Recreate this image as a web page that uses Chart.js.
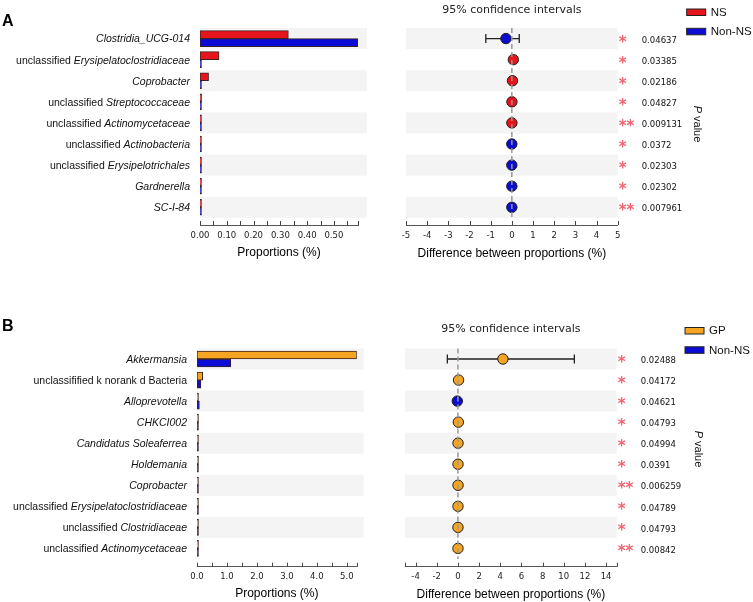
<!DOCTYPE html>
<html>
<head>
<meta charset="utf-8">
<title>Extended error bar plots</title>
<script src="https://cdn.jsdelivr.net/npm/chart.js@4.4.1/dist/chart.umd.min.js"></script>
<style>
  html, body { margin: 0; padding: 0; background: #fff; }
  #wrap { position: relative; width: 753px; height: 602px; overflow: hidden; }
  canvas { position: absolute; }
</style>
</head>
<body>
<div id="wrap">
  <canvas id="barA" width="385" height="265" style="left:0;top:0"></canvas>
  <canvas id="ciA" width="373" height="265" style="left:380px;top:0"></canvas>
  <canvas id="barB" width="385" height="302" style="left:0;top:300px"></canvas>
  <canvas id="ciB" width="373" height="302" style="left:380px;top:300px"></canvas>
</div>
<script>
// --- Panel A data: NS vs Non-NS ---
const namesA = [
  ["", "Clostridia_UCG-014"],
  ["unclassified ", "Erysipelatoclostridiaceae"],
  ["", "Coprobacter"],
  ["unclassified ", "Streptococcaceae"],
  ["unclassified ", "Actinomycetaceae"],
  ["unclassified ", "Actinobacteria"],
  ["unclassified ", "Erysipelotrichales"],
  ["", "Gardnerella"],
  ["", "SC-I-84"]
];
const nsA    = [0.33, 0.071, 0.032, 0.006, 0.002, 0.0006, 0.0002, 0.0001, 0.0002];
const nonNsA = [0.59, 0.001, 0.003, 0.002, 0.0004, 0.002, 0.0015, 0.001, 0.001];
const diffA  = [-0.28, 0.07, 0.03, 0.004, 0.002, -0.0014, -0.0013, -0.0009, -0.0008];
const lowA   = [-1.23, 0.02, 0.005, 0.001, 0.001, -0.0025, -0.0023, -0.0017, -0.0014];
const highA  = [0.35, 0.12, 0.055, 0.007, 0.003, -0.0003, -0.0003, -0.0001, -0.0002];
const pA     = ["0.04637", "0.03385", "0.02186", "0.04827", "0.009131", "0.0372", "0.02303", "0.02302", "0.007961"];
const winA   = ["Non-NS", "NS", "NS", "NS", "NS", "Non-NS", "Non-NS", "Non-NS", "Non-NS"];
const barTicksA  = [0, 0.05, 0.1, 0.15, 0.2, 0.25, 0.3, 0.35, 0.4, 0.45, 0.5, 0.55, 0.59];
const barLabelsA = ["0.00", "", "0.10", "", "0.20", "", "0.30", "", "0.40", "", "0.50", "", ""];
const ciTicksA   = [-5, -4, -3, -2, -1, 0, 1, 2, 3, 4, 5];
const ciLabelsA  = ["-5", "-4", "-3", "-2", "-1", "0", "1", "2", "3", "4", "5"];

// --- Panel B data: GP vs Non-NS ---
const namesB = [
  ["", "Akkermansia"],
  ["unclassifified k norank d Bacteria", ""],
  ["", "Alloprevotella"],
  ["", "CHKCI002"],
  ["", "Candidatus Soleaferrea"],
  ["", "Holdemania"],
  ["", "Coprobacter"],
  ["unclassified ", "Erysipelatoclostridiaceae"],
  ["unclassified ", "Clostridiaceae"],
  ["unclassified ", "Actinomycetaceae"]
];
const gpB    = [5.33, 0.19, 0.02, 0.05, 0.012, 0.01, 0.012, 0.006, 0.005, 0.004];
const nonNsB = [1.13, 0.13, 0.08, 0.01, 0.003, 0.002, 0.002, 0.0005, 0.001, 0.0003];
const diffB  = [4.25, 0.06, -0.06, 0.04, 0.009, 0.008, 0.01, 0.0055, 0.004, 0.0037];
const lowB   = [-1.0, 0.01, -0.11, 0.005, 0.002, 0.001, 0.003, 0.001, 0.001, 0.001];
const highB  = [11.0, 0.11, -0.01, 0.075, 0.016, 0.015, 0.017, 0.01, 0.007, 0.0065];
const pB     = ["0.02488", "0.04172", "0.04621", "0.04793", "0.04994", "0.0391", "0.006259", "0.04789", "0.04793", "0.00842"];
const winB   = ["GP", "GP", "Non-NS", "GP", "GP", "GP", "GP", "GP", "GP", "GP"];
const barTicksB  = [0, 0.5, 1, 1.5, 2, 2.5, 3, 3.5, 4, 4.5, 5, 5.33];
const barLabelsB = ["0.0", "", "1.0", "", "2.0", "", "3.0", "", "4.0", "", "5.0", ""];
const ciTicksB   = [-5, -4, -2, 0, 2, 4, 6, 8, 10, 12, 14, 15];
const ciLabelsB  = ["", "-4", "-2", "0", "2", "4", "6", "8", "10", "12", "14", ""];

// --- Styles ---
const SANS = '"Liberation Sans", Arial, sans-serif';
const DEJA = '"DejaVu Sans", sans-serif';
const BAND = '#f4f4f4';
const STAR = '#f26472';
const groupColors = { 'NS': '#e8141c', 'Non-NS': '#0c0cd4', 'GP': '#f6a523' };

Chart.defaults.animation = false;
Chart.defaults.font.family = SANS;
Chart.defaults.plugins.legend.display = false;
Chart.defaults.plugins.tooltip.enabled = false;

function xAxis(o, ticksArr, labels, title) {
  return {
    type: 'linear',
    min: ticksArr[0],
    max: ticksArr[ticksArr.length - 1],
    grid: { display: false, drawTicks: false },
    border: { display: true, color: '#555', width: 1 },
    afterBuildTicks: s => { s.ticks = ticksArr.map(v => ({ value: v })); },
    afterFit: s => { s.height = o.axisH; },
    ticks: {
      autoSkip: false, maxRotation: 0, padding: o.tickPad, color: '#222',
      font: { family: DEJA, size: 8.5 },
      callback: (v, i) => labels[i]
    },
    title: {
      display: true, text: title, color: '#000',
      font: { family: SANS, size: 12 },
      padding: { top: 0, bottom: o.titlePad }
    }
  };
}

function drawBands(chart, n, extra) {
  const { ctx, chartArea: a, scales: { y } } = chart;
  ctx.save();
  ctx.fillStyle = BAND;
  for (let i = 0; i < n; i += 2) {
    const t = y.getPixelForValue(i - 0.5), b = y.getPixelForValue(i + 0.5);
    ctx.fillRect(a.left, t, a.right - a.left + extra, b - t);
  }
  ctx.restore();
}

function drawInnerTicks(chart) {
  const { ctx, chartArea: a, scales: { x } } = chart;
  ctx.save();
  ctx.strokeStyle = '#444';
  ctx.lineWidth = 1;
  x.ticks.forEach(t => {
    const px = Math.round(x.getPixelForValue(t.value)) + 0.5;
    ctx.beginPath();
    ctx.moveTo(px, a.bottom);
    ctx.lineTo(px, a.bottom - 4);
    ctx.stroke();
  });
  ctx.restore();
}

// --- Bar chart (proportions) ---
function makeBars(id, o) {
  const decor = {
    id: 'barDecor',
    beforeDatasetsDraw(chart) { drawBands(chart, o.names.length, o.bandExtra); },
    afterDraw(chart) {
      const { ctx, chartArea: a, scales: { y } } = chart;
      drawInnerTicks(chart);
      ctx.save();
      ctx.fillStyle = '#111';
      ctx.textBaseline = 'middle';
      o.names.forEach(([plain, ital], i) => {
        const py = y.getPixelForValue(i) + 1;
        let x = a.left - 10;
        ctx.textAlign = 'right';
        if (ital) {
          ctx.font = 'italic 10.5px ' + SANS;
          ctx.fillText(ital, x, py);
          x -= ctx.measureText(ital).width;
        }
        if (plain) {
          ctx.font = '10.5px ' + SANS;
          ctx.fillText(plain, x, py);
        }
      });
      ctx.font = 'bold 16px ' + SANS;
      ctx.textAlign = 'left';
      ctx.textBaseline = 'alphabetic';
      ctx.fillStyle = '#000';
      ctx.fillText(o.tag, 2, o.tagY);
      ctx.restore();
    }
  };
  return new Chart(document.getElementById(id), {
    type: 'bar',
    data: {
      datasets: o.groups.map((g, k) => ({
        label: g,
        data: o.values[k].map((v, i) => ({ x: v, y: i })),
        backgroundColor: groupColors[g],
        borderColor: '#3b2222',
        borderWidth: 1,
        borderSkipped: false,
        barThickness: 8,
        minBarLength: 1.5
      }))
    },
    options: {
      indexAxis: 'y',
      responsive: false,
      layout: { padding: o.pad },
      scales: {
        x: xAxis(o, o.ticks, o.tickLabels, 'Proportions (%)'),
        y: { type: 'linear', min: -0.5, max: o.yMax, reverse: true, offset: false, display: false }
      }
    },
    plugins: [decor]
  });
}

// --- Confidence interval chart ---
function makeCI(id, o) {
  const decor = {
    id: 'ciDecor',
    beforeDatasetsDraw(chart) {
      const { ctx, scales: { x, y } } = chart;
      drawBands(chart, o.diff.length, 0);
      ctx.save();
      ctx.strokeStyle = '#222';
      ctx.lineWidth = 1.3;
      o.low.forEach((lo, i) => {
        const py = y.getPixelForValue(i);
        const x0 = x.getPixelForValue(lo), x1 = x.getPixelForValue(o.high[i]);
        ctx.beginPath();
        ctx.moveTo(x0, py); ctx.lineTo(x1, py);
        ctx.moveTo(x0, py - 4.5); ctx.lineTo(x0, py + 4.5);
        ctx.moveTo(x1, py - 4.5); ctx.lineTo(x1, py + 4.5);
        ctx.stroke();
      });
      ctx.restore();
    },
    afterDatasetsDraw(chart) {
      const { ctx, scales: { x, y } } = chart;
      const px = x.getPixelForValue(0);
      ctx.save();
      ctx.strokeStyle = '#999';
      ctx.lineWidth = 1.5;
      ctx.setLineDash([5, 3]);
      ctx.beginPath();
      ctx.moveTo(px, y.getPixelForValue(-0.5));
      ctx.lineTo(px, y.getPixelForValue(o.diff.length - 0.5));
      ctx.stroke();
      ctx.restore();
    },
    afterDraw(chart) {
      const { ctx, chartArea: a, scales: { y } } = chart;
      drawInnerTicks(chart);
      ctx.save();
      // title
      ctx.fillStyle = '#222';
      ctx.font = '11px ' + DEJA;
      ctx.textAlign = 'center';
      ctx.textBaseline = 'middle';
      ctx.fillText('95% confidence intervals', (a.left + a.right) / 2, o.titleY);
      // stars and p values
      ctx.textAlign = 'left';
      o.p.forEach((p, i) => {
        const py = y.getPixelForValue(i);
        const star = parseFloat(p) < 0.01 ? '**' : '*';
        ctx.font = 'bold 15px ' + DEJA;
        ctx.fillStyle = STAR;
        ctx.textBaseline = 'alphabetic';
        const m = ctx.measureText(star);
        ctx.fillText(star, a.right + 1, py + (m.actualBoundingBoxAscent - m.actualBoundingBoxDescent) / 2);
        ctx.font = '8.5px ' + DEJA;
        ctx.fillStyle = '#111';
        ctx.textBaseline = 'middle';
        ctx.fillText(p, a.right + 24, py + 2);
      });
      // P value label
      ctx.translate(o.pLabel[0], o.pLabel[1]);
      ctx.rotate(Math.PI / 2);
      ctx.font = 'italic 11px ' + SANS;
      const w1 = ctx.measureText('P').width;
      ctx.font = '11px ' + SANS;
      const w2 = ctx.measureText(' value').width;
      ctx.fillStyle = '#111';
      ctx.textBaseline = 'middle';
      ctx.font = 'italic 11px ' + SANS;
      ctx.fillText('P', -(w1 + w2) / 2, 0);
      ctx.font = '11px ' + SANS;
      ctx.fillText(' value', -(w1 + w2) / 2 + w1, 0);
      ctx.restore();
      // legend
      ctx.save();
      o.groups.forEach((g, k) => {
        const ly = o.legend[1] + k * 19.3;
        ctx.fillStyle = groupColors[g];
        ctx.fillRect(o.legend[0], ly, 19, 6.5);
        ctx.strokeStyle = '#222';
        ctx.lineWidth = 1;
        ctx.strokeRect(o.legend[0], ly, 19, 6.5);
        ctx.fillStyle = '#111';
        ctx.font = '11.5px ' + SANS;
        ctx.textBaseline = 'middle';
        ctx.fillText(g, o.legend[0] + 24, ly + 3.8);
      });
      ctx.restore();
    }
  };
  return new Chart(document.getElementById(id), {
    type: 'scatter',
    data: {
      datasets: [{
        data: o.diff.map((d, i) => ({ x: d, y: i })),
        pointRadius: 5.2,
        pointHoverRadius: 5.2,
        pointBackgroundColor: o.win.map(g => groupColors[g]),
        pointBorderColor: '#1c1c1c',
        pointBorderWidth: 1
      }]
    },
    options: {
      responsive: false,
      layout: { padding: o.pad },
      scales: {
        x: xAxis(o, o.ticks, o.tickLabels, 'Difference between proportions (%)'),
        y: { type: 'linear', min: -0.5, max: o.yMax, reverse: true, display: false }
      }
    },
    plugins: [decor]
  });
}

// --- Build charts ---
makeBars('barA', {
  tag: 'A', tagY: 25.7, names: namesA, groups: ['NS', 'Non-NS'], values: [nsA, nonNsA],
  ticks: barTicksA, tickLabels: barLabelsA, yMax: 8.84, bandExtra: 9,
  pad: { left: 200, right: 27, top: 28, bottom: 0 }, axisH: 40, tickPad: 6, titlePad: 5
});
makeCI('ciA', {
  diff: diffA, low: lowA, high: highA, p: pA, win: winA, groups: ['NS', 'Non-NS'],
  ticks: ciTicksA, tickLabels: ciLabelsA, yMax: 8.84, titleY: 10,
  pLabel: [316.7, 124], legend: [306.7, 9],
  pad: { left: 26, right: 135.3, top: 28, bottom: 0 }, axisH: 40, tickPad: 6, titlePad: 4
});
makeBars('barB', {
  tag: 'B', tagY: 30.7, names: namesB, groups: ['GP', 'Non-NS'], values: [gpB, nonNsB],
  ticks: barTicksB, tickLabels: barLabelsB, yMax: 9.87, bandExtra: 7,
  pad: { left: 197, right: 28.3, top: 48.5, bottom: 0 }, axisH: 35.3, tickPad: 5, titlePad: 1
});
makeCI('ciB', {
  diff: diffB, low: lowB, high: highB, p: pB, win: winB, groups: ['GP', 'Non-NS'],
  ticks: ciTicksB, tickLabels: ciLabelsB, yMax: 9.87, titleY: 29,
  pLabel: [318.3, 149], legend: [305, 27.5],
  pad: { left: 25, right: 136.3, top: 48.5, bottom: 0 }, axisH: 35.3, tickPad: 5, titlePad: 0
});
</script>
</body>
</html>
